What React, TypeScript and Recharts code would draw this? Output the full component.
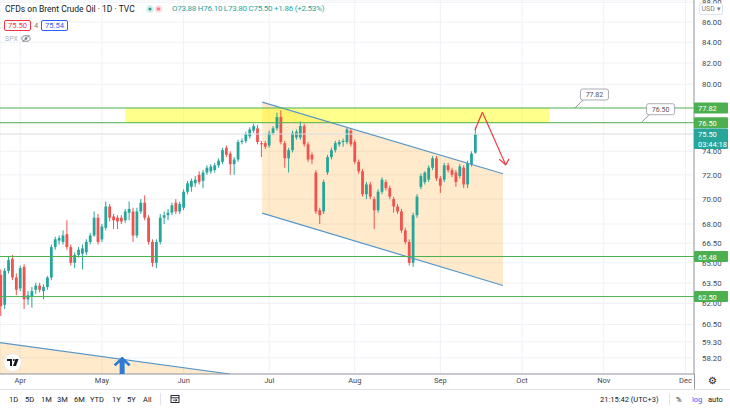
import React from 'react';
import {
  ComposedChart, Bar, Area, XAxis, YAxis, CartesianGrid,
  ReferenceLine, ReferenceArea, ReferenceDot,
} from 'recharts';

// daily candles, 25 Mar - 14 Sep 2021 (x = trading day index)
const OPEN = [
  64.1, 61.9, 64.4, 65.3, 63.9, 63.1, 64.7, 62.3, 62.5, 63.0, 63.3, 62.9, 63.2, 63.9, 66.2, 66.7, 66.6, 67.2, 66.2, 65.0,
  65.6, 65.7, 65.8, 66.6, 67.1, 68.5, 66.8, 67.7, 69.4, 68.6, 68.5, 68.5, 68.3, 68.9, 69.0, 67.1, 69.0, 69.7, 68.5, 66.6,
  65.0, 66.6, 68.5, 68.7, 68.9, 69.7, 69.0, 69.3, 70.6, 71.0, 71.3, 72.0, 71.5, 72.2, 72.3, 72.4, 72.8, 73.1, 74.3, 73.8,
  72.9, 73.3, 74.8, 74.9, 75.3, 75.8, 76.0, 74.7, 74.7, 74.5, 75.6, 76.0, 77.0, 74.7, 73.4, 74.1, 75.2, 75.2, 76.2, 74.6,
  73.7, 72.2, 69.1, 69.0, 72.2, 73.5, 74.1, 74.6, 74.8, 74.8, 75.8, 74.8, 73.1, 72.3, 70.4, 71.2, 70.0, 69.1, 70.6, 71.4,
  70.9, 70.0, 69.4, 69.0, 67.5, 66.6, 65.0, 68.7, 71.0, 71.4, 71.6, 72.6, 73.4, 71.7, 71.6, 72.8, 72.4, 72.2, 71.9, 72.6,
  71.2, 72.9, 73.88,
];
const HIGH = [
  64.5, 64.6, 65.5, 65.6, 64.2, 64.8, 64.9, 62.9, 63.2, 63.5, 63.5, 63.4, 64.0, 66.4, 67.0, 67.1, 67.5, 68.3, 66.4, 65.8,
  66.2, 66.4, 66.8, 67.3, 69.0, 68.8, 68.0, 69.8, 69.6, 68.8, 68.7, 68.7, 69.2, 69.8, 69.3, 69.3, 70.0, 70.3, 68.7, 66.8,
  66.8, 68.8, 69.0, 69.2, 69.7, 70.0, 69.8, 70.8, 71.5, 71.7, 71.9, 72.3, 72.4, 72.8, 72.9, 73.0, 73.4, 74.3, 74.5, 74.0,
  73.5, 75.0, 75.1, 75.7, 76.1, 76.4, 76.3, 74.9, 74.9, 75.8, 76.2, 77.4, 77.6, 74.9, 74.3, 75.8, 75.9, 76.6, 76.4, 74.8,
  73.9, 72.4, 69.3, 71.6, 73.7, 74.3, 74.9, 75.0, 75.1, 76.1, 76.0, 75.0, 73.3, 72.5, 71.4, 71.4, 70.2, 70.8, 71.8, 71.6,
  71.1, 70.2, 69.6, 69.2, 67.7, 66.8, 68.9, 70.4, 72.1, 72.3, 72.8, 73.6, 73.6, 71.9, 73.0, 73.0, 72.6, 72.4, 72.9, 72.8,
  73.2, 74.0, 76.10,
];
const LOW = [
  61.1, 61.6, 64.2, 63.7, 62.6, 62.9, 61.6, 61.9, 61.7, 62.7, 62.8, 62.3, 63.0, 63.7, 66.0, 66.4, 66.4, 66.0, 64.8, 64.6,
  65.4, 64.5, 65.6, 66.4, 67.0, 66.4, 66.6, 67.5, 68.2, 67.6, 67.6, 68.0, 68.1, 68.3, 66.6, 66.9, 68.8, 68.3, 66.4, 64.7,
  64.6, 66.4, 68.0, 68.3, 68.7, 68.8, 68.8, 69.1, 70.4, 70.6, 71.0, 71.2, 70.9, 72.0, 72.1, 72.2, 72.6, 72.9, 73.5, 72.0,
  72.0, 73.1, 74.6, 74.7, 75.1, 75.6, 74.6, 73.5, 74.2, 74.3, 75.4, 75.8, 74.6, 72.6, 72.2, 73.9, 75.0, 75.0, 74.4, 73.1,
  72.9, 68.8, 68.0, 68.8, 72.0, 73.3, 73.9, 74.4, 74.4, 74.6, 74.4, 72.9, 72.1, 70.2, 70.0, 70.0, 67.6, 68.9, 70.4, 70.7,
  70.0, 68.9, 68.8, 67.3, 66.4, 64.8, 64.7, 68.5, 70.8, 71.2, 71.4, 72.4, 71.5, 70.5, 71.4, 72.2, 71.8, 71.0, 71.7, 70.9,
  70.9, 72.7, 73.80,
];
const CLOSE = [
  61.8, 64.4, 65.2, 63.9, 63.0, 64.6, 62.3, 62.6, 62.9, 63.3, 63.0, 63.2, 63.9, 66.2, 66.8, 66.9, 67.1, 66.2, 65.0, 65.6,
  66.0, 66.1, 66.6, 67.1, 68.5, 66.6, 67.8, 69.4, 68.5, 68.3, 68.2, 68.2, 69.0, 69.2, 67.1, 69.0, 69.7, 68.5, 66.6, 65.0,
  66.6, 68.5, 68.7, 68.9, 69.5, 69.0, 69.6, 70.6, 71.3, 71.5, 71.6, 71.4, 72.2, 72.6, 72.7, 72.8, 73.2, 74.1, 73.7, 72.9,
  73.3, 74.8, 74.9, 75.5, 75.9, 76.2, 74.8, 74.6, 74.4, 75.6, 76.0, 77.0, 74.8, 73.4, 74.1, 75.6, 75.7, 76.2, 74.6, 73.3,
  73.3, 69.0, 68.7, 71.4, 73.5, 74.1, 74.7, 74.8, 74.9, 75.9, 74.6, 73.1, 72.3, 70.4, 71.2, 70.2, 69.1, 70.6, 71.6, 70.9,
  70.2, 69.4, 69.0, 67.5, 66.6, 65.0, 68.7, 70.2, 71.9, 72.2, 72.6, 73.4, 71.7, 71.1, 72.8, 72.4, 72.0, 71.4, 72.7, 71.2,
  73.0, 73.8, 75.50,
];

const MONTH_TICKS = [5, 26, 47, 69, 91, 113, 134, 155, 176];
const MONTH_LABELS = ['Apr', 'May', 'Jun', 'Jul', 'Aug', 'Sep', 'Oct', 'Nov', 'Dec'];
// 76.00 and 78.00 sit under the price tags and are not shown
const PRICE_TICKS = [58.2, 59.3, 60.5, 62, 63.5, 65, 66.5, 68, 70, 72, 74, 80, 82, 84, 86, 88];
const X_DOMAIN = [-0.2, 178.2];
const Y_DOMAIN = [57.12, 88.23];

const LEVELS = [77.82, 76.5, 65.48, 62.5];
const LAST_PRICE = 75.5;
const COUNTDOWN = '03:44:18';

const ZONE_X = [32, 141];
const ZONE_Y = [76.5, 77.82];

const CHANNEL_X = [67.2, 129.1];
const CHANNEL_UPPER = [78.35, 72.09];
const CHANNEL_LOWER = [68.87, 63.31];

const OLD_CHANNEL_X = [-0.2, 58.9];
const OLD_CHANNEL_UPPER = [59.24, 57.12];

const ARROW_X = [121.9, 123.8, 129.8];
const ARROW_Y = [75.86, 77.43, 72.84];

const CALLOUT_X = [147.6, 164.6];
const CALLOUT_Y = [77.82, 76.5];

const MARK_X = 31.2;

const UP = '#26a69a';
const DOWN = '#ef5350';
const LEVEL = '#4caf50';
const CHAN = '#5797c9';
const FONT = 'Roboto, "Open Sans", sans-serif';

const ROWS = [
  ...OPEN.map((o, i) => ({ i, o, h: HIGH[i], l: LOW[i], c: CLOSE[i] })),
  ...CHANNEL_X.map((x, k) => ({ i: x, chan: [CHANNEL_LOWER[k], CHANNEL_UPPER[k]] })),
  ...OLD_CHANNEL_X.map((x, k) => ({ i: x, old: [Y_DOMAIN[0], OLD_CHANNEL_UPPER[k]] })),
].sort((a, b) => a.i - b.i);

function Candle(props: any) {
  const { x, y, width, height, payload } = props;
  if (!payload || payload.o == null || !Number.isFinite(y) || !Number.isFinite(height)) return null;
  const { o, h, l, c } = payload;
  const cx = x + width / 2;
  const top = Math.min(y, y + height);
  const span = Math.abs(height);
  const lh = Math.log(h);
  const ll = Math.log(l);
  const py = (v: number) => top + (span * (lh - Math.log(v))) / (lh - ll);
  const color = c >= o ? UP : DOWN;
  const b1 = py(Math.max(o, c));
  const b2 = py(Math.min(o, c));
  return (
    <g>
      <line x1={cx} x2={cx} y1={top} y2={top + span} stroke={color} strokeWidth={1} />
      <rect x={cx - 1.4} y={b1} width={2.8} height={Math.max(1, b2 - b1)} fill={color} />
    </g>
  );
}

const priceTag = (fill: string, lines: string[]) => (p: any) => (
  <g>
    <rect x={p.cx} y={p.cy - 5.5} width={34} height={lines.length * 9.5 + 1.5} fill={fill} rx={1} />
    {lines.map((t, k) => (
      <text key={k} x={p.cx + 4} y={p.cy + 3 + k * 9.5} fill="#fff" fontSize={7.5} fontFamily={FONT}>{t}</text>
    ))}
  </g>
);

const callout = (text: string) => (p: any) => (
  <g>
    <line x1={p.cx} y1={p.cy} x2={p.cx + 8} y2={p.cy - 8} stroke="#9598a1" strokeWidth={1} />
    <rect x={p.cx + 5.5} y={p.cy - 19} width={28} height={11} rx={2} fill="#fff" stroke="#9598a1" strokeWidth={0.8} />
    <text x={p.cx + 19.5} y={p.cy - 10.8} textAnchor="middle" fontSize={7} fill="#50535e" fontFamily={FONT}>{text}</text>
  </g>
);

const arrowMark = (p: any) => {
  const { cx, cy } = p;
  const pts = [
    [0, -17.5], [8.5, -9.5], [6.5, -7.8], [2.5, -11.5], [2.5, 0],
    [-2.5, 0], [-2.5, -11.5], [-6.5, -7.8], [-8.5, -9.5],
  ].map(([dx, dy]) => `${cx + dx},${cy + dy}`).join(' ');
  return <polygon points={pts} fill="#2f7bd2" />;
};

const arrowHead = (p: any) => (
  <polyline
    points={`${p.cx - 6.4},${p.cy - 5.7} ${p.cx},${p.cy} ${p.cx + 3.3},${p.cy - 6}`}
    fill="none" stroke="#f23645" strokeWidth={1.2}
  />
);

const txt = (left: number, top: number, size: number, color: string, s: string, extra: any = {}) => (
  <div style={{ position: 'absolute', left, top, fontSize: size, color, lineHeight: '10px', whiteSpace: 'nowrap', ...extra }}>{s}</div>
);

// same scales as the main chart, drawn on top so the price tags cover the axis labels
function TagLayer() {
  return (
    <div style={{ position: 'absolute', left: 0, top: 0, pointerEvents: 'none' }}>
      <ComposedChart width={730} height={390} data={ROWS} margin={{ top: 0, right: 36, bottom: 16, left: 0 }}>
        <XAxis dataKey="i" type="number" domain={X_DOMAIN} allowDataOverflow hide />
        <YAxis type="number" scale="log" domain={Y_DOMAIN} allowDataOverflow hide />
        {LEVELS.map((v) => (
          <ReferenceDot key={`t${v}`} x={X_DOMAIN[1]} y={v} r={0} shape={priceTag(LEVEL, [v.toFixed(2)])} ifOverflow="visible" />
        ))}
        <ReferenceDot
          x={X_DOMAIN[1]} y={LAST_PRICE} r={0}
          shape={priceTag(UP, [LAST_PRICE.toFixed(2), COUNTDOWN])} ifOverflow="visible"
        />
      </ComposedChart>
    </div>
  );
}

export default function App() {
  const tick = { fontSize: 7.8, fill: '#434651', fontFamily: FONT };
  return (
    <div style={{ position: 'fixed', left: 0, top: 0, width: 730, height: 410, background: '#fff', overflow: 'hidden', fontFamily: FONT }}>
      <ComposedChart width={730} height={390} data={ROWS} margin={{ top: 0, right: 0, bottom: 0, left: 0 }}>
        <CartesianGrid stroke="#eff1f6" />
        <XAxis
          dataKey="i" type="number" domain={X_DOMAIN} allowDataOverflow
          ticks={MONTH_TICKS} interval={0} height={16}
          tickFormatter={(v: number) => MONTH_LABELS[MONTH_TICKS.indexOf(v)]}
          tickLine={false} tickSize={2} tickMargin={2}
          axisLine={{ stroke: '#9598a1' }} tick={{ ...tick, fontSize: 7.5 }}
        />
        <YAxis
          orientation="right" type="number" scale="log" domain={Y_DOMAIN} allowDataOverflow
          ticks={PRICE_TICKS} interval={0} width={36}
          tickFormatter={(v: number) => v.toFixed(2)}
          tickLine={false} axisLine={{ stroke: '#9598a1' }} tick={tick}
        />
        <Area dataKey="old" type="linear" stroke="none" fill="#ff9800" fillOpacity={0.2} connectNulls dot={false} activeDot={false} isAnimationActive={false} />
        <Area dataKey="chan" type="linear" stroke="none" fill="#ff9800" fillOpacity={0.2} connectNulls dot={false} activeDot={false} isAnimationActive={false} />
        <ReferenceLine y={LAST_PRICE} stroke="#d9dce3" />
        <Bar
          dataKey={(d: any) => (d.h == null ? null : [d.l, d.h])}
          barSize={3}
          shape={(p: any) => <Candle {...p} />}
          isAnimationActive={false}
        />
        <ReferenceLine
          segment={[{ x: OLD_CHANNEL_X[0], y: OLD_CHANNEL_UPPER[0] }, { x: OLD_CHANNEL_X[1], y: OLD_CHANNEL_UPPER[1] }]}
          stroke={CHAN} strokeWidth={1.2} ifOverflow="hidden"
        />
        <ReferenceLine
          segment={[{ x: CHANNEL_X[0], y: CHANNEL_UPPER[0] }, { x: CHANNEL_X[1], y: CHANNEL_UPPER[1] }]}
          stroke={CHAN} strokeWidth={1.2} ifOverflow="hidden"
        />
        <ReferenceLine
          segment={[{ x: CHANNEL_X[0], y: CHANNEL_LOWER[0] }, { x: CHANNEL_X[1], y: CHANNEL_LOWER[1] }]}
          stroke={CHAN} strokeWidth={1.2} ifOverflow="hidden"
        />
        {LEVELS.map((v) => (
          <ReferenceLine key={v} y={v} stroke={LEVEL} strokeWidth={1} />
        ))}
        {[0, 1].map((k) => (
          <ReferenceLine
            key={`a${k}`}
            segment={[{ x: ARROW_X[k], y: ARROW_Y[k] }, { x: ARROW_X[k + 1], y: ARROW_Y[k + 1] }]}
            stroke="#f23645" strokeWidth={1.2} ifOverflow="hidden"
          />
        ))}
        <ReferenceDot x={ARROW_X[2]} y={ARROW_Y[2]} r={0} shape={arrowHead} ifOverflow="visible" />
        <ReferenceArea
          x1={ZONE_X[0]} x2={ZONE_X[1]} y1={ZONE_Y[0]} y2={ZONE_Y[1]}
          fill="#ffff00" fillOpacity={0.45} stroke="none" ifOverflow="hidden"
        />
        <ReferenceDot x={MARK_X} y={Y_DOMAIN[0]} r={0} shape={arrowMark} ifOverflow="visible" />
        {CALLOUT_X.map((x, k) => (
          <ReferenceDot key={`c${k}`} x={x} y={CALLOUT_Y[k]} r={0} shape={callout(CALLOUT_Y[k].toFixed(2))} ifOverflow="visible" />
        ))}
      </ComposedChart>
      <TagLayer />

      {/* legend */}
      {txt(5, 4, 8.5, '#131722', 'CFDs on Brent Crude Oil · 1D · TVC')}
      <svg style={{ position: 'absolute', left: 146, top: 4 }} width={17} height={10}>
        <circle cx={4} cy={5} r={3.8} fill="#d5efeb" />
        <circle cx={4} cy={5} r={1.6} fill={UP} />
        <circle cx={12.5} cy={5} r={3.8} fill="#fde0e4" />
        <line x1={10.8} x2={14.2} y1={4.2} y2={4.2} stroke="#f23645" strokeWidth={0.8} />
        <line x1={10.8} x2={14.2} y1={5.8} y2={5.8} stroke="#f23645" strokeWidth={0.8} />
      </svg>
      {txt(172, 4, 8, UP, 'O73.88 H76.10 L73.80 C75.50 +1.86 (+2.53%)', { letterSpacing: -0.25 })}
      {txt(4, 20, 7.5, '#f23645', '75.50', { width: 25, height: 9, border: '1px solid #f23645', borderRadius: 2, textAlign: 'center' })}
      {txt(34, 21, 7.5, '#787b86', '4')}
      {txt(41, 20, 7.5, '#2962ff', '75.54', { width: 25, height: 9, border: '1px solid #2962ff', borderRadius: 2, textAlign: 'center' })}
      {txt(5, 34, 7, '#b2b5be', 'SPX')}
      <svg style={{ position: 'absolute', left: 21, top: 34 }} width={10} height={9}>
        <ellipse cx={5} cy={4.5} rx={4.2} ry={2.8} fill="none" stroke="#787b86" strokeWidth={0.9} />
        <circle cx={5} cy={4.5} r={1.3} fill="#787b86" />
        <line x1={1.5} y1={8} x2={8.5} y2={1} stroke="#787b86" strokeWidth={0.9} />
      </svg>
      {txt(699, 3, 7, '#787b86', 'USD ▾', { width: 22, height: 10, background: '#fff', border: '1px solid #e0e3eb', borderRadius: 2, textAlign: 'center' })}

      {/* logo */}
      <svg style={{ position: 'absolute', left: 2, top: 352 }} width={21} height={21}>
        <circle cx={10.5} cy={10.5} r={9} fill="#fff" stroke="#e0e3eb" strokeWidth={0.8} />
        <rect x={5} y={7} width={5} height={2} fill="#131722" />
        <rect x={8} y={7} width={2} height={7} fill="#131722" />
        <circle cx={11.8} cy={8} r={1} fill="#131722" />
        <polygon points="13.5,7 16.5,7 14,14 11,14" fill="#131722" />
      </svg>

      {/* axis corner */}
      <div style={{ position: 'absolute', left: 693.5, top: 374, width: 1, height: 15, background: '#9598a1' }} />
      {txt(708, 376, 10, '#131722', '⚙')}
      <div style={{ position: 'absolute', left: 0, top: 389, width: 730, height: 1, background: '#e0e3eb' }} />

      {/* toolbar */}
      {[['1D', 9], ['5D', 25], ['1M', 41], ['3M', 57], ['6M', 74], ['YTD', 90], ['1Y', 112], ['5Y', 127], ['All', 143]].map(([s, x]) => (
        <React.Fragment key={s as string}>{txt(x as number, 395, 7.5, '#131722', s as string)}</React.Fragment>
      ))}
      <div style={{ position: 'absolute', left: 160, top: 393, width: 1, height: 12, background: '#e0e3eb' }} />
      <svg style={{ position: 'absolute', left: 170, top: 394 }} width={10} height={10}>
        <rect x={1} y={1.5} width={8} height={7} fill="none" stroke="#131722" strokeWidth={0.9} />
        <line x1={1} x2={9} y1={3.8} y2={3.8} stroke="#131722" strokeWidth={0.9} />
        <path d="M3 6.2 H7 M5.5 5 L7 6.2 L5.5 7.4" fill="none" stroke="#131722" strokeWidth={0.8} />
      </svg>
      {txt(600, 395, 7.5, '#131722', '21:15:42 (UTC+3)')}
      <div style={{ position: 'absolute', left: 669, top: 393, width: 1, height: 12, background: '#e0e3eb' }} />
      {txt(676, 395, 7.5, '#131722', '%')}
      {txt(692, 395, 7.5, '#2962ff', 'log')}
      {txt(708, 395, 7.5, '#131722', 'auto')}
    </div>
  );
}
